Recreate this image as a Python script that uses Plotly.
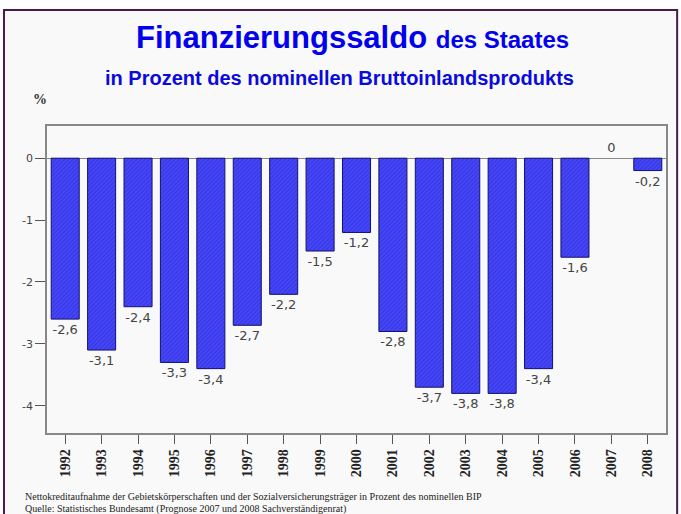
import plotly.graph_objects as go

# Daten
jahre = [str(j) for j in range(1992, 2009)]
saldo = [-2.6, -3.1, -2.4, -3.3, -3.4, -2.7, -2.2, -1.5, -1.2, -2.8,
         -3.7, -3.8, -3.8, -3.4, -1.6, 0, -0.2]
y_ticks = [0, -1, -2, -3, -4]
y_labels = ["0", "-1", "-2", "-3", "-4"]

labels = [f"{v:.1f}".replace(".", ",") if v != 0 else "0" for v in saldo]
# kein Rand fuer Balken mit Wert 0
rand = [0 if v == 0 else 1 for v in saldo]

fig = go.Figure()

fig.add_trace(go.Bar(
    x=jahre,
    y=saldo,
    text=labels,
    textposition="outside",
    cliponaxis=False,
    textfont=dict(family="DejaVu Sans", size=13, color="#444444"),
    marker=dict(
        color="#4646ff",
        line=dict(color="#12126e", width=rand),
        pattern=dict(shape="/", fgcolor="#1e1e9a", size=3, solidity=0.3),
    ),
    width=0.77,
))

# Rahmen um die ganze Grafik
fig.add_shape(type="rect", xref="paper", yref="paper",
              x0=-0.0695, x1=1.018, y0=-0.3, y1=1.378,
              line=dict(color="#4a1a4a", width=2), fillcolor="#f9f9f9",
              layer="below")

# Titel
fig.add_annotation(
    text="<b>Finanzierungssaldo</b> <span style='font-size:24px'><b>des Staates</b></span>",
    xref="paper", yref="paper", x=0.494, y=1.287, xanchor="center", yanchor="middle",
    showarrow=False, font=dict(family="Liberation Sans", size=31, color="#0000ee"))
fig.add_annotation(
    text="<b>in Prozent des nominellen Bruttoinlandsprodukts</b>",
    xref="paper", yref="paper", x=0.473, y=1.156, xanchor="center", yanchor="middle",
    showarrow=False, font=dict(family="Liberation Sans", size=20, color="#0a0add"))
fig.add_annotation(
    text="<b>%</b>", xref="paper", yref="paper", x=-0.012, y=1.085,
    xanchor="center", yanchor="middle", showarrow=False,
    font=dict(family="Liberation Serif", size=14, color="#333333"))

# Fussnoten
fig.add_annotation(
    text="Nettokreditaufnahme der Gebietskörperschaften und der Sozialversicherungsträger in Prozent des nominellen BIP",
    xref="paper", yref="paper", x=-0.038, y=-0.208, xanchor="left", yanchor="middle",
    showarrow=False, font=dict(family="Liberation Serif", size=10, color="#222222"))
fig.add_annotation(
    text="Quelle: Statistisches Bundesamt (Prognose 2007 und 2008 Sachverständigenrat)",
    xref="paper", yref="paper", x=-0.038, y=-0.246, xanchor="left", yanchor="middle",
    showarrow=False, font=dict(family="Liberation Serif", size=10, color="#222222"))

fig.update_xaxes(
    range=[-0.5, 16.5],
    tickangle=-90,
    ticks="outside", ticklen=9, tickcolor="#555555",
    tickfont=dict(family="Liberation Serif", size=14, color="#222222", weight="bold"),
    showline=True, linecolor="#888888", linewidth=1.5, mirror=True,
    showgrid=False,
)
fig.update_yaxes(
    range=[-4.44, 0.52],
    tickvals=y_ticks, ticktext=y_labels,
    ticks="outside", ticklen=10, tickcolor="#555555",
    tickfont=dict(family="DejaVu Sans", size=11, color="#444444"),
    showline=True, linecolor="#888888", linewidth=1.5, mirror=True,
    showgrid=False,
    zeroline=True, zerolinecolor="#888888", zerolinewidth=1,
)

fig.update_layout(
    width=681, height=514,
    margin=dict(l=47, r=15, t=126, b=81),
    paper_bgcolor="white",
    plot_bgcolor="#f9f9f9",
    showlegend=False,
    bargap=0.23,
)

# Seitenrand des Browsers entfernen
fig.write_html("out.html", config={"displayModeBar": False},
               post_script="document.body.style.margin='0px';")
